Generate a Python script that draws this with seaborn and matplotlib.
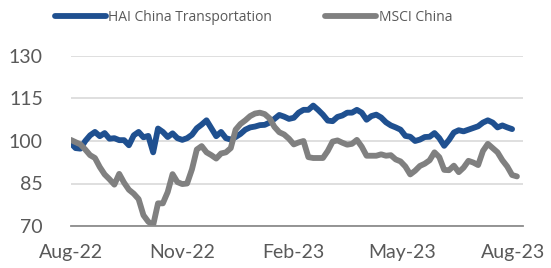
import matplotlib
matplotlib.use("Agg")
import matplotlib.pyplot as plt
from matplotlib.lines import Line2D
import seaborn as sns
import pandas as pd
import numpy as np

series_names = ["HAI China Transportation", "MSCI China"]

hai_values = [99.3, 97.5, 97.3, 100.0, 102.0, 103.2, 101.7, 102.8, 100.8, 101.0,
              100.3, 100.3, 98.5, 102.0, 103.2, 101.3, 101.8, 96.0, 104.4, 103.2,
              101.4, 102.7, 101.0, 100.4, 101.0, 102.2, 104.5, 105.8, 107.3, 104.5,
              101.7, 103.2, 101.0, 100.5, 101.4, 102.5, 104.0, 104.8, 105.1, 105.6,
              105.7, 106.5, 107.8, 109.2, 108.6, 107.8, 108.2, 110.0, 111.0, 111.0,
              112.5, 111.0, 109.3, 107.2, 107.0, 108.5, 109.0, 110.0, 110.0, 111.0,
              110.0, 107.5, 108.8, 109.3, 108.3, 106.6, 105.5, 104.8, 104.0, 101.8,
              101.5, 100.0, 100.5, 101.4, 101.5, 102.8, 101.0, 98.3, 100.4, 103.0,
              103.8, 103.4, 104.0, 104.6, 105.2, 106.5, 107.3, 106.5, 104.8, 105.5,
              104.8, 104.2]

msci_values = [100.4, 99.6, 98.8, 97.0, 95.0, 94.0, 90.8, 88.2, 86.5, 84.6,
               88.4, 85.3, 82.8, 81.4, 79.5, 73.8, 71.5, 70.3, 78.0, 78.0,
               82.0, 88.3, 85.5, 84.8, 85.0, 90.0, 97.0, 98.2, 96.0, 95.0,
               93.8, 95.6, 96.0, 97.5, 104.0, 106.0, 107.3, 108.8, 109.7, 110.0,
               109.5, 108.0, 105.0, 103.1, 102.3, 100.8, 98.8, 99.5, 100.0, 94.3,
               94.0, 94.0, 94.0, 96.5, 99.8, 100.2, 99.4, 98.7, 99.0, 100.4,
               98.0, 94.8, 94.8, 94.8, 95.3, 94.8, 95.0, 93.5, 92.8, 91.0,
               88.2, 89.5, 91.2, 92.0, 93.2, 96.0, 94.3, 89.8, 89.7, 91.3,
               89.0, 90.6, 93.0, 92.4, 91.5, 96.5, 99.0, 97.5, 96.0, 93.2,
               91.0, 88.0, 87.5]

tick_dates = ["2022-08-01", "2022-11-01", "2023-02-01", "2023-05-01", "2023-08-01"]
tick_labels = ["Aug-22", "Nov-22", "Feb-23", "May-23", "Aug-23"]
y_ticks = [70, 85, 100, 115, 130]

colors = ["#1F5090", "#808080"]

dates = pd.date_range("2022-08-01", periods=len(msci_values), freq="4D")
hai_full = hai_values + [np.nan] * (len(msci_values) - len(hai_values))
df = pd.DataFrame({"date": dates, series_names[0]: hai_full, series_names[1]: msci_values})
long = df.melt(id_vars="date", var_name="series", value_name="value").dropna()

sns.set_theme(style="white")
plt.rcParams["font.family"] = ["Lato", "DejaVu Sans"]
text_color = "#595959"

fig = plt.figure(figsize=(5.51, 2.68), dpi=100)
ax = fig.add_axes([70.7 / 551, 1 - 226 / 268, (523 - 70.7) / 551, (226 - 56) / 268])

sns.lineplot(data=long, x="date", y="value", hue="series", hue_order=series_names,
             palette=colors, linewidth=4.2, ax=ax, legend=False)
for ln in ax.lines:
    ln.set_solid_joinstyle("round")
    ln.set_solid_capstyle("round")
ax.lines[0].set_zorder(2)
ax.lines[1].set_zorder(3)

ax.set_xlim(pd.Timestamp("2022-08-01"), pd.Timestamp("2023-08-09"))
ax.set_ylim(70, 130)
ax.set_yticks(y_ticks)
ax.set_yticklabels([str(v) for v in y_ticks])
ax.set_xticks(pd.to_datetime(tick_dates))
ax.set_xticklabels(tick_labels)
ax.set_xlabel("")
ax.set_ylabel("")

ax.grid(axis="y", color="#D9D9D9", linewidth=1.2)
ax.set_axisbelow(True)
for s in ["top", "right", "left"]:
    ax.spines[s].set_visible(False)
ax.spines["bottom"].set_color("#8C8C8C")
ax.spines["bottom"].set_linewidth(1.3)
ax.spines["bottom"].set_zorder(4)

ax.tick_params(axis="y", length=0, pad=20, labelsize=14, labelcolor=text_color)
ax.tick_params(axis="x", length=4, width=1.3, color="#8C8C8C", direction="out",
               pad=9, labelsize=14, labelcolor=text_color)

handles = [Line2D([0], [0], color=c, linewidth=4.2, solid_capstyle="round") for c in colors]
fig.legend(handles, series_names, loc="center", bbox_to_anchor=(0.46, 0.935), ncol=2,
           frameon=False, handlelength=3.7, handletextpad=0.15,
           columnspacing=3.8, labelcolor=text_color,
           prop={"family": ["Open Sans", "DejaVu Sans"], "size": 10})

fig.savefig("out.png", dpi=100)
